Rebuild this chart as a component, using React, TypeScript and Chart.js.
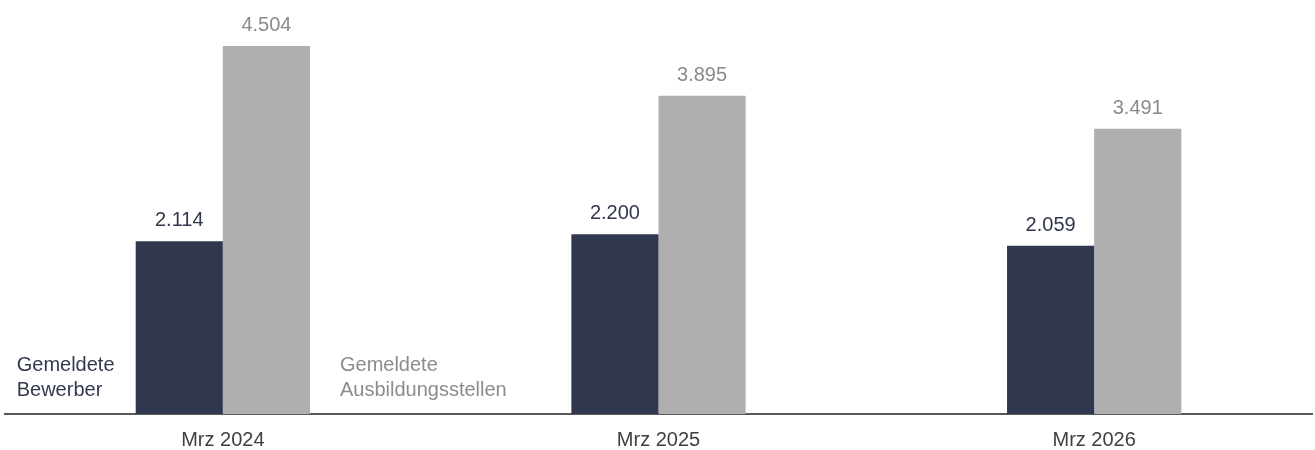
import React, { useEffect, useRef } from "react";
import { Chart, registerables } from "chart.js";

Chart.register(...registerables);

const categories = ["Mrz 2024", "Mrz 2025", "Mrz 2026"];
const bewerber = [2114, 2200, 2059];
const stellen = [4504, 3895, 3491];
const seriesNames = ["Gemeldete Bewerber", "Gemeldete Ausbildungsstellen"];
const legendLines = [["Gemeldete", "Bewerber"], ["Gemeldete", "Ausbildungsstellen"]];

const DARK = "#31384d";
const GREY = "#afafaf";
const FONT = "'Liberation Sans', Arial, Helvetica, sans-serif";

const fmt = (v: number) => String(Math.round(v)).replace(/\B(?=(\d{3})+(?!\d))/g, ".");

const valueLabels = {
  id: "valueLabels",
  afterDatasetsDraw(chart: any) {
    const ctx = chart.ctx;
    const colors = ["#31384d", "#8a8a8a"];
    ctx.save();
    ctx.font = `20px ${FONT}`;
    ctx.textAlign = "center";
    ctx.textBaseline = "alphabetic";
    chart.data.datasets.forEach((ds: any, di: number) => {
      const meta = chart.getDatasetMeta(di);
      ctx.fillStyle = colors[di];
      meta.data.forEach((el: any, i: number) => {
        ctx.fillText(fmt(ds.data[i]), el.x, el.y - 15);
      });
    });
    ctx.restore();
  },
};

const seriesLegend = {
  id: "seriesLegend",
  afterDraw(chart: any) {
    const ctx = chart.ctx;
    const m0 = chart.getDatasetMeta(0).data[0];
    const m1 = chart.getDatasetMeta(1).data[0];
    if (!m0 || !m1) return;
    ctx.save();
    ctx.font = `20px ${FONT}`;
    ctx.textAlign = "left";
    ctx.textBaseline = "alphabetic";
    const base = chart.chartArea.bottom;
    const x0 = m0.x - m0.width / 2 - 119;
    const x1 = m1.x + m1.width / 2 + 30;
    ctx.fillStyle = "#333a4f";
    legendLines[0].forEach((t, i) => ctx.fillText(t, x0, base - 43 + i * 24.5));
    ctx.fillStyle = "#8c8c8c";
    legendLines[1].forEach((t, i) => ctx.fillText(t, x1, base - 43 + i * 24.5));
    ctx.restore();
  },
};

export default function App() {
  const ref = useRef<HTMLCanvasElement | null>(null);
  useEffect(() => {
    if (!ref.current) return;
    const chart = new Chart(ref.current, {
      type: "bar",
      data: {
        labels: categories,
        datasets: [
          { label: seriesNames[0], data: bewerber, backgroundColor: DARK, borderWidth: 0 },
          { label: seriesNames[1], data: stellen, backgroundColor: GREY, borderWidth: 0 },
        ],
      },
      options: {
        animation: false,
        responsive: true,
        maintainAspectRatio: false,
        layout: { padding: { left: 5, right: 3, top: 5.5, bottom: 0 } },
        datasets: { bar: { categoryPercentage: 0.4, barPercentage: 1.0 } },
        plugins: { legend: { display: false }, tooltip: { enabled: false } },
        scales: {
          x: {
            grid: { display: false, drawTicks: false },
            border: { display: true, color: "#595959", width: 2 },
            ticks: { color: "#404040", font: { family: FONT, size: 20 }, padding: 14 },
            afterFit: (scale: any) => {
              scale.height = 36;
            },
          },
          y: { display: false, min: 0, max: 5000 },
        },
      },
      plugins: [valueLabels, seriesLegend],
    });
    return () => chart.destroy();
  }, []);
  return (
    <div style={{ position: "absolute", left: 0, top: 0, width: 1315, height: 450, background: "#fff" }}>
      <canvas ref={ref} />
    </div>
  );
}
